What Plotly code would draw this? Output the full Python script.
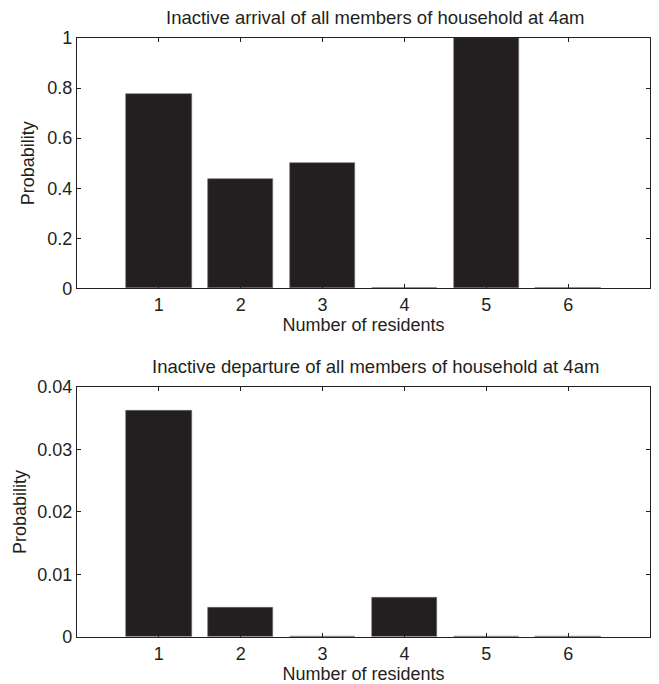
import plotly.graph_objects as go
from plotly.subplots import make_subplots

residents = [1, 2, 3, 4, 5, 6]
arrival_prob = [0.775, 0.4375, 0.5, 0.0, 1.0, 0.0]
departure_prob = [0.0362, 0.00465, 0.0, 0.0063, 0.0, 0.0]

title_top = "Inactive arrival of all members of household at 4am"
title_bottom = "Inactive departure of all members of household at 4am"
xlabel = "Number of residents"
ylabel = "Probability"

W, H = 659, 684
ML, MR, MT, MB = 77, 8, 38, 43
plot_w = W - ML - MR
plot_h = H - MT - MB
top_bottom = (H - MB - 290) / plot_h
bot_top = (641 - 389) / plot_h

bar_color = "#231f20"
txt_color = "#231f20"
font = dict(family="Liberation Sans, Arial, sans-serif", size=18, color=txt_color)
title_font = dict(family="Liberation Sans, Arial, sans-serif", size=18.5, color=txt_color)

fig = make_subplots(rows=2, cols=1)
fig.add_trace(go.Bar(x=residents, y=arrival_prob, width=0.8,
                     marker=dict(color=bar_color, line=dict(color="#6a6a6a", width=0.6))), row=1, col=1)
fig.add_trace(go.Bar(x=residents, y=departure_prob, width=0.8,
                     marker=dict(color=bar_color, line=dict(color="#6a6a6a", width=0.6))), row=2, col=1)

axis_common = dict(showline=True, linecolor=txt_color, linewidth=1.2, mirror="ticks",
                   ticks="inside", ticklen=4, tickcolor=txt_color, tickwidth=1,
                   showgrid=False, zeroline=False, tickfont=font)

fig.update_xaxes(range=[0, 7], tickvals=residents, ticktext=[str(r) for r in residents],
                 title=dict(text=xlabel, font=font, standoff=0), **axis_common)
fig.update_yaxes(**axis_common)
fig.update_yaxes(range=[0, 1], tickvals=[0, 0.2, 0.4, 0.6, 0.8, 1],
                 ticktext=["0", "0.2", "0.4", "0.6", "0.8", "1"], row=1, col=1)
fig.update_yaxes(range=[0, 0.04], tickvals=[0, 0.01, 0.02, 0.03, 0.04],
                 ticktext=["0", "0.01", "0.02", "0.03", "0.04"], row=2, col=1)

fig.update_layout(
    yaxis=dict(domain=[top_bottom, 1]),
    yaxis2=dict(domain=[0, bot_top]),
    xaxis=dict(domain=[0, 1]),
    xaxis2=dict(domain=[0, 1]),
    width=W, height=H,
    margin=dict(l=ML, r=MR, t=MT, b=MB),
    plot_bgcolor="white", paper_bgcolor="white",
    showlegend=False, bargap=0, font=font,
)

tx = (376 - ML) / plot_w
fig.add_annotation(text=title_top, xref="paper", yref="paper", x=tx, y=1,
                   yshift=8, xanchor="center", yanchor="bottom", showarrow=False, font=title_font)
fig.add_annotation(text=title_bottom, xref="paper", yref="paper", x=tx, y=bot_top,
                   yshift=8, xanchor="center", yanchor="bottom", showarrow=False, font=title_font)

# y-axis titles
fig.add_annotation(text=ylabel, xref="paper", yref="paper", x=(28 - ML) / plot_w,
                   y=(top_bottom + 1) / 2, xanchor="center", yanchor="middle",
                   textangle=-90, showarrow=False, font=font)
fig.add_annotation(text=ylabel, xref="paper", yref="paper", x=(20 - ML) / plot_w,
                   y=bot_top / 2, xanchor="center", yanchor="middle",
                   textangle=-90, showarrow=False, font=font)

fig.write_html("out.html", config={"displayModeBar": False},
               post_script="document.body.style.margin='0px';document.body.style.overflow='hidden';")
